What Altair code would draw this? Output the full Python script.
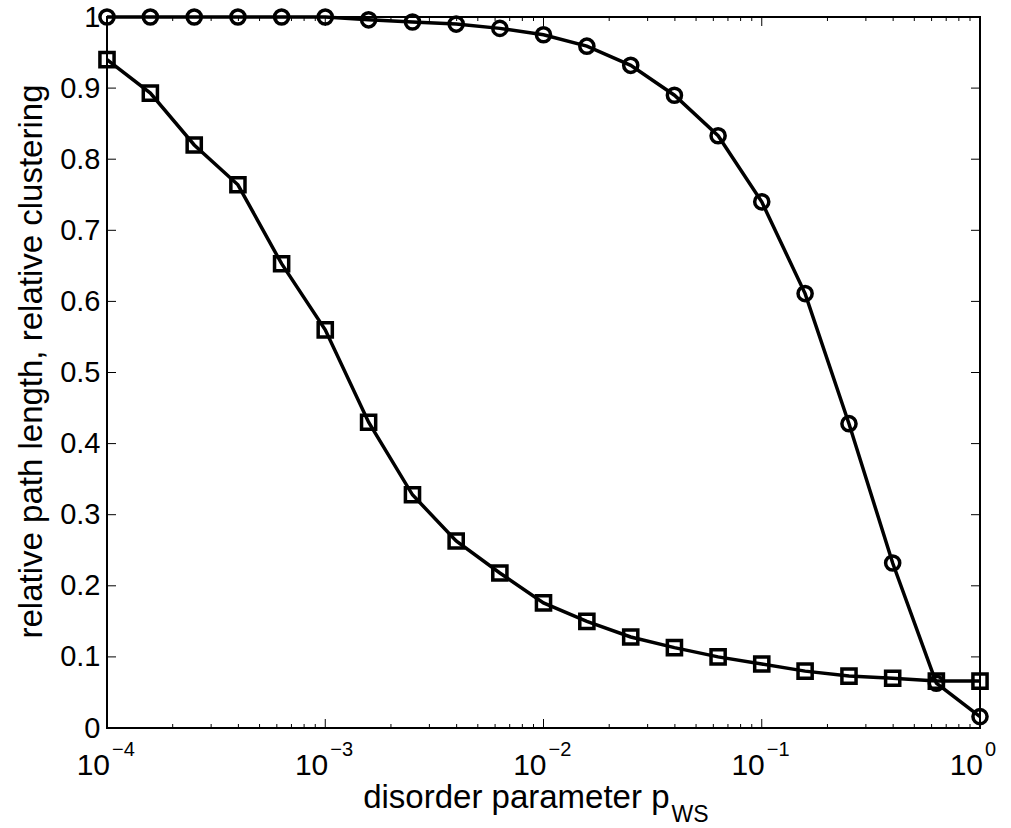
import altair as alt
import pandas as pd

# ---- data ----
p_ws = [0.0001, 0.000158, 0.000251, 0.000398, 0.000631,
        0.001, 0.00158, 0.00251, 0.00398, 0.00631,
        0.01, 0.0158, 0.0251, 0.0398, 0.0631,
        0.1, 0.158, 0.251, 0.398, 0.631, 1.0]
clustering = [1.0, 1.0, 1.0, 1.0, 1.0, 1.0, 0.996, 0.993, 0.990, 0.984,
              0.975, 0.959, 0.932, 0.890, 0.833, 0.740, 0.611, 0.428,
              0.232, 0.063, 0.016]
path_length = [0.940, 0.893, 0.820, 0.764, 0.653, 0.560, 0.430, 0.328,
               0.263, 0.218, 0.176, 0.150, 0.128, 0.113, 0.100, 0.090,
               0.080, 0.073, 0.070, 0.066, 0.066]

x_major = [0.0001, 0.001, 0.01, 0.1, 1.0]
x_exponents = ["\u22124", "\u22123", "\u22122", "\u22121", "0"]
x_minor_mult = [2, 3, 4, 5, 6, 7, 8, 9]
x_minor = [m * d for d in [0.0001, 0.001, 0.01, 0.1] for m in x_minor_mult]
y_ticks = [0.0, 0.1, 0.2, 0.3, 0.4, 0.5, 0.6, 0.7, 0.8, 0.9, 1.0]

W, H = 873, 711
FONT = "Liberation Sans"

df_c = pd.DataFrame({"p": p_ws, "value": clustering})
df_l = pd.DataFrame({"p": p_ws, "value": path_length})
df_xmaj = pd.DataFrame({"p": x_major, "exp": x_exponents, "base": ["10"] * len(x_major)})
df_xmin = pd.DataFrame({"p": x_minor})
df_y = pd.DataFrame({"v": y_ticks})

xscale = alt.Scale(type="log", domain=[0.0001, 1.0], nice=False)
yscale = alt.Scale(domain=[0, 1], nice=False, zero=True)

X = alt.X("p:Q", scale=xscale, axis=None)

yaxis = alt.Axis(
    values=y_ticks, format=".1~f", ticks=False, domain=False, grid=False,
    labelFontSize=29, labelPadding=7, labelColor="black", labelFont=FONT,
    title="relative path length, relative clustering",
    titleFontSize=33, titleFont=FONT, titleFontWeight="normal", titleColor="black",
    titleAngle=270, titleBaseline="alphabetic", titleX=-66, titleY=344,
)

# inward ticks
tick_style = dict(color="black", strokeWidth=1)
bx_major = alt.Chart(df_xmaj).mark_rule(**tick_style).encode(
    x=alt.X("p:Q", scale=xscale, axis=None), y=alt.value(H), y2=alt.value(H - 9))
tx_major = alt.Chart(df_xmaj).mark_rule(**tick_style).encode(
    x=alt.X("p:Q", scale=xscale, axis=None), y=alt.value(0), y2=alt.value(9))
bx_minor = alt.Chart(df_xmin).mark_rule(**tick_style).encode(
    x=alt.X("p:Q", scale=xscale, axis=None), y=alt.value(H), y2=alt.value(H - 4))
tx_minor = alt.Chart(df_xmin).mark_rule(**tick_style).encode(
    x=alt.X("p:Q", scale=xscale, axis=None), y=alt.value(0), y2=alt.value(4))
ly = alt.Chart(df_y).mark_rule(**tick_style).encode(
    y=alt.Y("v:Q", scale=yscale, axis=yaxis), x=alt.value(0), x2=alt.value(9))
ry = alt.Chart(df_y).mark_rule(**tick_style).encode(
    y=alt.Y("v:Q", scale=yscale), x=alt.value(W), x2=alt.value(W - 9))

# x tick labels 10^k
lab10 = alt.Chart(df_xmaj).mark_text(
    align="right", baseline="alphabetic", dx=3, fontSize=30, font=FONT, color="black"
).encode(x=alt.X("p:Q", scale=xscale, axis=None), y=alt.value(H + 47), text="base:N")
labexp = alt.Chart(df_xmaj).mark_text(
    align="left", baseline="alphabetic", dx=5, fontSize=20, font=FONT, color="black"
).encode(x=alt.X("p:Q", scale=xscale, axis=None), y=alt.value(H + 28), text="exp:N")

# x title with subscript
xt_main = alt.Chart(pd.DataFrame({"t": ["disorder parameter p"]})).mark_text(
    align="right", baseline="alphabetic", fontSize=33, font=FONT, color="black"
).encode(x=alt.value(W / 2 + 126), y=alt.value(H + 80), text="t:N")
xt_sub = alt.Chart(pd.DataFrame({"t": ["WS"]})).mark_text(
    align="left", baseline="alphabetic", fontSize=23, font=FONT, color="black"
).encode(x=alt.value(W / 2 + 128), y=alt.value(H + 94), text="t:N")

line_c = alt.Chart(df_c).mark_line(color="black", strokeWidth=3.5).encode(
    x=X, y=alt.Y("value:Q", scale=yscale))
line_l = alt.Chart(df_l).mark_line(color="black", strokeWidth=3.5).encode(
    x=X, y=alt.Y("value:Q", scale=yscale))
pts_c = alt.Chart(df_c).mark_point(
    shape="circle", filled=False, color="black", strokeWidth=3.5, size=200, opacity=1
).encode(x=X, y=alt.Y("value:Q", scale=yscale))
pts_l = alt.Chart(df_l).mark_point(
    shape="square", filled=False, color="black", strokeWidth=3.5, size=200, opacity=1
).encode(x=X, y=alt.Y("value:Q", scale=yscale))

chart = alt.layer(
    ly, ry, bx_major, tx_major, bx_minor, tx_minor,
    line_c, line_l, pts_c, pts_l,
    lab10, labexp, xt_main, xt_sub,
).properties(
    width=W, height=H,
    autosize=alt.AutoSizeParams(type="none"),
    padding={"left": 107, "top": 17, "right": 31, "bottom": 100},
    background="white",
).configure_view(
    stroke="black", strokeWidth=2,
)

chart.save("out.html", embed_options={"renderer": "svg", "actions": False})
